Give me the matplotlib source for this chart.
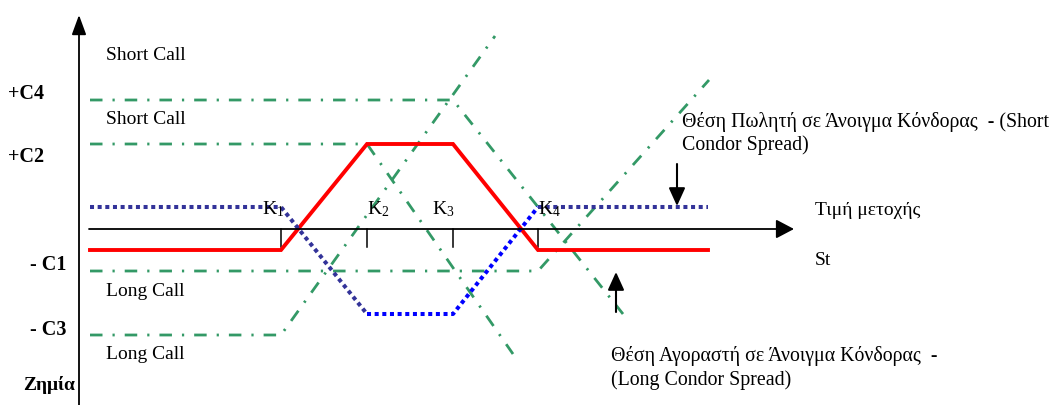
import matplotlib.pyplot as plt

plt.rcParams['font.family'] = ['Liberation Serif', 'DejaVu Serif']
plt.rcParams['mathtext.fontset'] = 'custom'
plt.rcParams['mathtext.rm'] = 'Liberation Serif'
plt.rcParams['mathtext.it'] = 'Liberation Serif'

# schematic coordinates: x = share price, y = profit (0 on the price axis)
strikes = [281, 367, 453, 538]
x_lo, x_hi = 90, 708
pay_x = [x_lo] + strikes + [x_hi]

short_condor = [-21, -21, 85, 85, -21, -21]   # red, Short Condor Spread
long_condor = [22, 22, -85, -85, 22, 22]      # blue dotted, Long Condor Spread

# single option legs (green dash-dot): x points, y points
short_call_c4_x = [90, 453, 623]
short_call_c4_y = [129, 129, -85]
short_call_c2_x = [90, 367, 513]
short_call_c2_y = [85, 85, -125]
long_call_c1_x = [90, 538, 709]
long_call_c1_y = [-42, -42, 149]
long_call_c3_x = [90, 281, 495]
long_call_c3_y = [-106, -106, 193]

level_labels = ['+C4', '+C2', '- C1', '- C3']
level_y = [136, 73, -35, -100]
leg_labels = ['Short Call', 'Short Call', 'Long Call', 'Long Call']
leg_label_y = [174, 110, -62, -125]
k_labels = ['1', '2', '3', '4']
k_label_x = [262, 367, 432, 538]

green = '#339966'
navy = '#333399'

fig = plt.figure(figsize=(10.57, 4.06), dpi=100)
ax = fig.add_axes([0, 0, 1, 1])
ax.set_xlim(0, 1057)
ax.set_ylim(-176, 230)
ax.axis('off')


def arrow(x0, y0, x1, y1, hl, hw, lw=1.3):
    ax.annotate('', xy=(x1, y1), xytext=(x0, y0), annotation_clip=False,
                arrowprops=dict(arrowstyle=f'-|>,head_length={hl},head_width={hw}',
                                lw=lw, color='black', shrinkA=0, shrinkB=0,
                                mutation_scale=20))


# axes with arrows
arrow(79, -176, 79, 214, 0.6, 0.22)
arrow(89, 0, 794, 0, 0.55, 0.29)

# strike ticks
for k in strikes:
    ax.plot([k, k], [0, -18], color='black', lw=1.1)

gdash = dict(color=green, lw=2.0, dashes=(4.5, 3.6, 0.8, 3.6))
ax.plot(short_call_c4_x, short_call_c4_y, **gdash)
ax.plot(short_call_c2_x, short_call_c2_y, **gdash)
ax.plot(long_call_c1_x, long_call_c1_y, **gdash)
ax.plot(long_call_c3_x, long_call_c3_y, **gdash)

ax.plot(pay_x, short_condor, color='red', lw=2.8, solid_joinstyle='miter')

dot = dict(lw=2.9, linestyle=(0, (1, 0.9)))
ax.plot(pay_x[:3], long_condor[:3], color=navy, **dot)
ax.plot(pay_x[2:5], long_condor[2:5], color='blue', **dot)
ax.plot(pay_x[4:], long_condor[4:], color=navy, **dot)

for lab, y in zip(level_labels, level_y):
    x = 8 if lab.startswith('+') else 30
    ax.text(x, y, lab, fontsize=14.5, fontweight='bold', va='center', ha='left')
ax.text(23, -155, 'Ζημία', fontsize=14, fontweight='bold', va='center', ha='left')

for lab, y in zip(leg_labels, leg_label_y):
    ax.text(106, y, lab, fontsize=14, va='center', ha='left')

for lab, x in zip(k_labels, k_label_x):
    ax.text(x, 21, 'K$_{\\mathrm{' + lab + '}}$', fontsize=14, va='center', ha='left')

ax.text(815, 19, 'Τιμή μετοχής', fontsize=14, va='center', ha='left')
ax.text(815, -31, 'St', fontsize=14, va='center', ha='left')

ax.text(682, 108, 'Θέση Πωλητή σε Άνοιγμα Κόνδορας  - (Short', fontsize=14.3,
        va='center', ha='left')
ax.text(682, 85, 'Condor Spread)', fontsize=14.3, va='center', ha='left')
ax.text(611, -126, 'Θέση Αγοραστή σε Άνοιγμα Κόνδορας  -', fontsize=14.3,
        va='center', ha='left')
ax.text(611, -150, '(Long Condor Spread)', fontsize=14.3, va='center', ha='left')

# pointer arrows
arrow(677, 65, 677, 23, 0.55, 0.25, lw=1.5)
arrow(616, -83, 616, -43, 0.55, 0.25, lw=1.5)

fig.savefig('out.png', dpi=100)
